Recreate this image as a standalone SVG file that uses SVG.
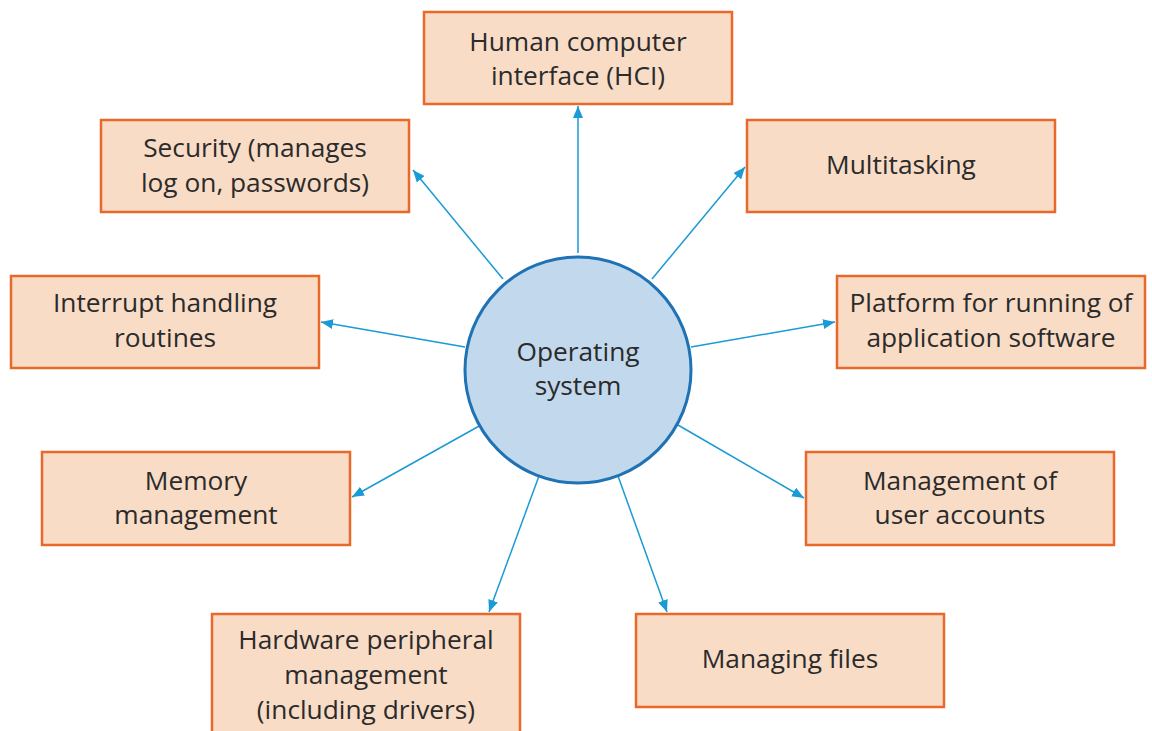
<svg xmlns="http://www.w3.org/2000/svg" width="1152" height="731" viewBox="0 0 1152 731">
<defs>
<marker id="ah" viewBox="0 0 12 10" refX="12" refY="5" markerWidth="12" markerHeight="10" markerUnits="userSpaceOnUse" orient="auto">
<path d="M0,0 L12,5 L0,10 z" fill="#1a9ad6"/>
</marker>
<style>
.box{fill:#f9dcc6;stroke:#e8692a;stroke-width:2.5}
.t{font-family:"Open Sans","Noto Sans",sans-serif;font-size:26.3px;fill:#2b2b2b;text-anchor:middle}
.c{stroke:#1a9ad6;stroke-width:1.5;fill:none;marker-end:url(#ah)}
</style>
</defs>
<rect width="1152" height="731" fill="#ffffff"/>
<g id="connectors">
<line class="c" x1="578" y1="253" x2="578" y2="106"/>
<line class="c" x1="503" y1="279" x2="413" y2="170"/>
<line class="c" x1="652" y1="279" x2="745" y2="167"/>
<line class="c" x1="465" y1="347" x2="321" y2="322"/>
<line class="c" x1="691" y1="347" x2="835" y2="322"/>
<line class="c" x1="481" y1="425" x2="352" y2="497"/>
<line class="c" x1="678" y1="425" x2="804" y2="498"/>
<line class="c" x1="539" y1="476" x2="489" y2="612"/>
<line class="c" x1="618" y1="476" x2="667" y2="612"/>
</g>
<g id="os">
<circle cx="578" cy="370" r="113" fill="#c2d8ec" stroke="#1f72b3" stroke-width="3"/>
<text class="t" x="578" y="361">Operating</text>
<text class="t" x="578" y="395">system</text>
</g>
<g id="hci">
<rect class="box" x="424" y="12" width="308" height="92"/>
<text class="t" x="578" y="51">Human computer</text>
<text class="t" x="578" y="85">interface (HCI)</text>
</g>
<g id="security">
<rect class="box" x="101" y="120" width="308" height="92"/>
<text class="t" x="255" y="157">Security (manages</text>
<text class="t" x="255" y="192">log on, passwords)</text>
</g>
<g id="multitasking">
<rect class="box" x="747" y="120" width="308" height="92"/>
<text class="t" x="901" y="174">Multitasking</text>
</g>
<g id="interrupt">
<rect class="box" x="11" y="276" width="308" height="92"/>
<text class="t" x="165" y="312">Interrupt handling</text>
<text class="t" x="165" y="347">routines</text>
</g>
<g id="platform">
<rect class="box" x="837" y="276" width="308" height="92"/>
<text class="t" x="991" y="312">Platform for running of</text>
<text class="t" x="991" y="347">application software</text>
</g>
<g id="memory">
<rect class="box" x="42" y="452" width="308" height="93"/>
<text class="t" x="196" y="490">Memory</text>
<text class="t" x="196" y="524">management</text>
</g>
<g id="accounts">
<rect class="box" x="806" y="452" width="308" height="93"/>
<text class="t" x="960" y="490">Management of</text>
<text class="t" x="960" y="524">user accounts</text>
</g>
<g id="hardware">
<rect class="box" x="212" y="614" width="308" height="130"/>
<text class="t" x="366" y="649">Hardware peripheral</text>
<text class="t" x="366" y="684">management</text>
<text class="t" x="366" y="719">(including drivers)</text>
</g>
<g id="files">
<rect class="box" x="636" y="614" width="308" height="93"/>
<text class="t" x="790" y="668">Managing files</text>
</g>
</svg>
